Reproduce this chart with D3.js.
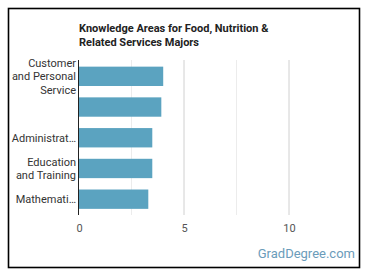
<!DOCTYPE html>
<html>
<head>
<meta charset="utf-8">
<script src="https://cdn.jsdelivr.net/npm/d3@7"></script>
<style>
body { margin: 0; background: #fff; }
svg { display: block; font-family: Roboto, sans-serif; }
</style>
</head>
<body>
<div id="chart"></div>
<script>
// knowledge areas, top to bottom
var categories = ["Customer and Personal Service", "Food Production", "Administration and Management", "Education and Training", "Mathematics"];
var labels = [["Customer", "and Personal", "Service"], [], ["Administrat\u2026"], ["Education", "and Training"], ["Mathemati\u2026"]];
var values = [4.01, 3.92, 3.49, 3.49, 3.30];
var tickValues = [0, 5, 10];
var gridValues = [2.5, 5, 7.5, 10];

var W = 370, H = 278;
var margin = {top: 60, left: 79, right: 11, bottom: 63};

var svg = d3.select("#chart").append("svg")
  .attr("width", W)
  .attr("height", H);

svg.append("rect")
  .attr("x", 8.5).attr("y", 8.5)
  .attr("width", 351).attr("height", 259)
  .attr("fill", "#fff")
  .attr("stroke", "#000")
  .attr("stroke-width", 1.6);

var x = d3.scaleLinear()
  .domain([0, 13.333])
  .range([margin.left, W - margin.right]);

var y = d3.scaleBand()
  .domain(categories)
  .range([margin.top + 0.5, H - margin.bottom])
  .paddingInner(0.37)
  .paddingOuter(0.2);

// grid
svg.append("g").selectAll("line")
  .data(gridValues)
  .join("line")
  .attr("x1", d => x(d)).attr("x2", d => x(d))
  .attr("y1", margin.top).attr("y2", H - margin.bottom)
  .attr("stroke", d => d % 5 === 0 ? "#d0d0d0" : "#ececec")
  .attr("stroke-width", 1);

// bars
svg.append("g").selectAll("rect")
  .data(values)
  .join("rect")
  .attr("x", x(0))
  .attr("y", (d, i) => y(categories[i]))
  .attr("width", d => x(d) - x(0))
  .attr("height", y.bandwidth())
  .attr("fill", "#5ba3c0");

// y axis line
svg.append("line")
  .attr("x1", x(0) - 0.5).attr("x2", x(0) - 0.5)
  .attr("y1", margin.top).attr("y2", H - margin.bottom)
  .attr("stroke", "#222")
  .attr("stroke-width", 1);

// category labels
var lab = svg.append("g")
  .attr("font-size", 11)
  .attr("fill", "#333")
  .attr("text-anchor", "end");
labels.forEach(function(lines, i) {
  var cy = y(categories[i]) + y.bandwidth() / 2;
  var lh = 13.5;
  var t = lab.append("text")
    .attr("x", x(0) - 3)
    .attr("y", cy - (lines.length - 1) * lh / 2 + 4);
  lines.forEach(function(s, j) {
    t.append("tspan").attr("x", x(0) - 3).attr("dy", j === 0 ? 0 : lh).text(s);
  });
});

// x tick labels
var xAxis = svg.append("g")
  .attr("transform", "translate(0," + (H - margin.bottom) + ")")
  .call(d3.axisBottom(x).tickValues(tickValues).tickSize(0).tickPadding(9));
xAxis.select(".domain").remove();
xAxis.selectAll("text")
  .attr("font-family", "Roboto, sans-serif")
  .attr("font-size", 11)
  .attr("fill", "#555");

// title
svg.append("text")
  .attr("x", 79).attr("y", 32)
  .attr("font-size", 11).attr("font-weight", "bold").attr("fill", "#222")
  .selectAll("tspan")
  .data(["Knowledge Areas for Food, Nutrition &", "Related Services Majors"])
  .join("tspan")
  .attr("x", 79)
  .attr("dy", (d, i) => i === 0 ? 0 : 14)
  .text(d => d);

// watermark
svg.append("text")
  .attr("x", 355).attr("y", 258)
  .attr("text-anchor", "end")
  .attr("font-size", 13)
  .attr("fill", "#6b9cba")
  .text("GradDegree.com");
</script>
</body>
</html>
